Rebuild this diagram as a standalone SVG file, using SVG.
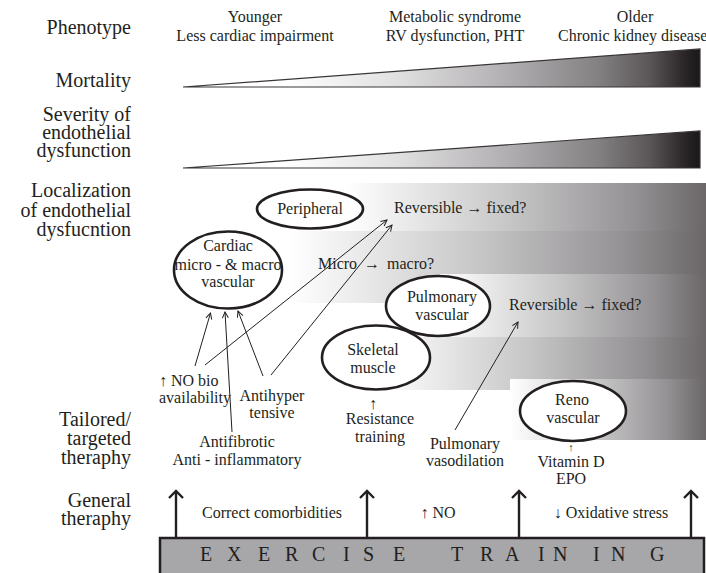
<svg xmlns="http://www.w3.org/2000/svg" width="706" height="573" viewBox="0 0 706 573">
<defs>
<linearGradient id="tri" gradientUnits="userSpaceOnUse" x1="183" y1="0" x2="700" y2="0">
<stop offset="0" stop-color="#ffffff"/><stop offset="0.2" stop-color="#ffffff"/><stop offset="0.42" stop-color="#e0dfe0"/><stop offset="0.61" stop-color="#b5b3b5"/><stop offset="0.8" stop-color="#858284"/><stop offset="0.9" stop-color="#5c5859"/><stop offset="0.97" stop-color="#2a2628"/><stop offset="1" stop-color="#1a1718"/>
</linearGradient>
<linearGradient id="band" x1="0" y1="0" x2="1" y2="0">
<stop offset="0" stop-color="#ffffff"/><stop offset="0.45" stop-color="#c8c7c8"/><stop offset="0.8" stop-color="#949294"/><stop offset="1" stop-color="#6b6769"/>
</linearGradient>
<marker id="thin" viewBox="0 0 8 8" refX="7" refY="4" markerWidth="8" markerHeight="8" markerUnits="userSpaceOnUse" orient="auto">
<path d="M1,1 L7,4 L1,7" fill="none" stroke="#231f20" stroke-width="1"/>
</marker>
<marker id="thick" viewBox="0 0 16 16" refX="14" refY="8" markerWidth="16" markerHeight="16" markerUnits="userSpaceOnUse" orient="auto">
<path d="M7,1 L14,8 L7,15" fill="none" stroke="#231f20" stroke-width="2.4"/>
</marker>
</defs>
<rect width="706" height="573" fill="#ffffff"/>

<g id="labels" fill="#231f20">
<text font-family="Times New Roman" font-size="20" text-anchor="end" x="131" y="34">Phenotype</text>
<text font-family="Times New Roman" font-size="20" text-anchor="end" x="131" y="87">Mortality</text>
<text font-family="Times New Roman" font-size="20" text-anchor="end" x="131" y="121">Severity of</text>
<text font-family="Times New Roman" font-size="20" text-anchor="end" x="131" y="139">endothelial</text>
<text font-family="Times New Roman" font-size="20" text-anchor="end" x="131" y="157">dysfunction</text>
<text font-family="Times New Roman" font-size="20" text-anchor="end" x="131" y="197">Localization</text>
<text font-family="Times New Roman" font-size="20" text-anchor="end" x="131" y="216.5">of endothelial</text>
<text font-family="Times New Roman" font-size="20" text-anchor="end" x="131" y="236">dysfucntion</text>
<text font-family="Times New Roman" font-size="20" text-anchor="end" x="131" y="426">Tailored/</text>
<text font-family="Times New Roman" font-size="20" text-anchor="end" x="131" y="445">targeted</text>
<text font-family="Times New Roman" font-size="20" text-anchor="end" x="131" y="464">theraphy</text>
<text font-family="Times New Roman" font-size="20" text-anchor="end" x="131" y="507">General</text>
<text font-family="Times New Roman" font-size="20" text-anchor="end" x="131" y="525">theraphy</text>
</g>

<g id="phenotypes" fill="#231f20">
<text font-family="Times New Roman" font-size="16" text-anchor="middle" x="255" y="22">Younger</text>
<text font-family="Times New Roman" font-size="16" text-anchor="middle" x="255" y="40.5">Less cardiac impairment</text>
<text font-family="Times New Roman" font-size="16" text-anchor="middle" x="455" y="22">Metabolic syndrome</text>
<text font-family="Times New Roman" font-size="16" text-anchor="middle" x="455" y="40.5">RV dysfunction, PHT</text>
<text font-family="Times New Roman" font-size="16" text-anchor="middle" x="635" y="22">Older</text>
<text font-family="Times New Roman" font-size="16" x="558" y="40.5">Chronic kidney disease</text>
</g>

<g id="mortality">
<polygon points="183,87 700,49 700,87" fill="url(#tri)" stroke="#3a3637" stroke-width="1.2"/>
</g>
<g id="severity">
<polygon points="183,168 700,131 700,168" fill="url(#tri)" stroke="#3a3637" stroke-width="1.2"/>
</g>

<g id="bands" fill="url(#band)">
<rect x="290" y="231" width="416" height="72"/>
<rect x="345" y="183" width="361" height="48"/>
<rect x="440" y="274" width="266" height="63"/>
<rect x="380" y="337" width="326" height="53"/>
<rect x="510" y="379" width="196" height="61"/>
</g>

<g id="band-labels" fill="#231f20">
<text font-family="Times New Roman" font-size="16" x="394" y="213">Reversible → fixed?</text>
<text font-family="Times New Roman" font-size="16" x="318" y="269">Micro <tspan x="364">→</tspan> <tspan x="387">macro?</tspan></text>
<text font-family="Times New Roman" font-size="16" x="509" y="310">Reversible → fixed?</text>
</g>

<g id="peripheral">
<ellipse cx="310" cy="209" rx="53" ry="19.5" fill="#ffffff" stroke="#231f20" stroke-width="2.6"/>
<text font-family="Times New Roman" font-size="16" text-anchor="middle" fill="#231f20" x="310" y="214">Peripheral</text>
</g>
<g id="cardiac">
<ellipse cx="228" cy="270" rx="54" ry="38.5" fill="#ffffff" stroke="#231f20" stroke-width="2.6"/>
<text font-family="Times New Roman" font-size="16" text-anchor="middle" fill="#231f20" x="228" y="251">Cardiac</text>
<text font-family="Times New Roman" font-size="16" text-anchor="middle" fill="#231f20" x="228" y="269.5">micro - &amp; macro</text>
<text font-family="Times New Roman" font-size="16" text-anchor="middle" fill="#231f20" x="228" y="287">vascular</text>
</g>
<g id="pulmonary">
<ellipse cx="438" cy="306" rx="52" ry="30" fill="#ffffff" stroke="#231f20" stroke-width="2.6"/>
<text font-family="Times New Roman" font-size="16" text-anchor="middle" fill="#231f20" x="442" y="301.5">Pulmonary</text>
<text font-family="Times New Roman" font-size="16" text-anchor="middle" fill="#231f20" x="442" y="320">vascular</text>
</g>
<g id="skeletal">
<ellipse cx="376" cy="357.5" rx="54" ry="32" fill="#ffffff" stroke="#231f20" stroke-width="2.6"/>
<text font-family="Times New Roman" font-size="16" text-anchor="middle" fill="#231f20" x="373" y="355">Skeletal</text>
<text font-family="Times New Roman" font-size="16" text-anchor="middle" fill="#231f20" x="373" y="373">muscle</text>
</g>
<g id="reno">
<ellipse cx="573" cy="411" rx="53" ry="30" fill="#ffffff" stroke="#231f20" stroke-width="2.6"/>
<text font-family="Times New Roman" font-size="16" text-anchor="middle" fill="#231f20" x="572" y="405">Reno</text>
<text font-family="Times New Roman" font-size="16" text-anchor="middle" fill="#231f20" x="573" y="423">vascular</text>
</g>

<g id="therapies" fill="#231f20">
<text font-family="Times New Roman" font-size="16" x="159" y="386">↑ NO bio</text>
<text font-family="Times New Roman" font-size="16" x="159" y="403">availability</text>
<text font-family="Times New Roman" font-size="16" text-anchor="middle" x="272" y="401">Antihyper</text>
<text font-family="Times New Roman" font-size="16" text-anchor="middle" x="272" y="418">tensive</text>
<text font-family="Times New Roman" font-size="16" text-anchor="middle" x="237" y="447">Antifibrotic</text>
<text font-family="Times New Roman" font-size="16" text-anchor="middle" x="237" y="465">Anti - inflammatory</text>
<text font-family="Times New Roman" font-size="16" text-anchor="middle" x="373" y="409">↑</text>
<text font-family="Times New Roman" font-size="16" text-anchor="middle" x="380" y="424">Resistance</text>
<text font-family="Times New Roman" font-size="16" text-anchor="middle" x="380" y="442">training</text>
<text font-family="Times New Roman" font-size="16" text-anchor="middle" x="465" y="449">Pulmonary</text>
<text font-family="Times New Roman" font-size="16" text-anchor="middle" x="465" y="466">vasodilation</text>
<text font-family="Times New Roman" font-size="11" text-anchor="middle" x="571" y="451">↑</text>
<text font-family="Times New Roman" font-size="16" text-anchor="middle" x="571" y="467">Vitamin D</text>
<text font-family="Times New Roman" font-size="16" text-anchor="middle" x="571" y="484">EPO</text>
<text font-family="Times New Roman" font-size="16" text-anchor="middle" x="272" y="518">Correct comorbidities</text>
<text font-family="Times New Roman" font-size="16" text-anchor="middle" x="438" y="518">↑ NO</text>
<text font-family="Times New Roman" font-size="16" text-anchor="middle" x="611" y="518">↓ Oxidative stress</text>
</g>

<g id="connectors" fill="none" stroke="#231f20">
<g stroke-width="1" marker-end="url(#thin)">
<line x1="195" y1="366" x2="210.5" y2="313"/>
<line x1="232" y1="432" x2="225" y2="312"/>
<line x1="263" y1="376" x2="238" y2="311"/>
<line x1="205" y1="365" x2="387" y2="220"/>
<line x1="271" y1="375" x2="392" y2="225"/>
<line x1="455" y1="430" x2="518" y2="322"/>
</g>
<g stroke-width="2.4" marker-end="url(#thick)">
<line x1="176" y1="538" x2="176" y2="491"/>
<line x1="367" y1="538" x2="367" y2="491"/>
<line x1="519" y1="538" x2="519" y2="491"/>
<line x1="691" y1="538" x2="691" y2="491"/>
</g>
</g>

<g id="exercise">
<rect x="160" y="538" width="544" height="42" fill="#a7a6a9" stroke="#231f20" stroke-width="2.5"/>
<text font-family="Times New Roman" font-size="20" fill="#231f20" y="561" x="200 227 258 285 312 343 363 393 422 451 480 505 538 553 593 611 650">EXERCISE TRAINING</text>
</g>
</svg>
